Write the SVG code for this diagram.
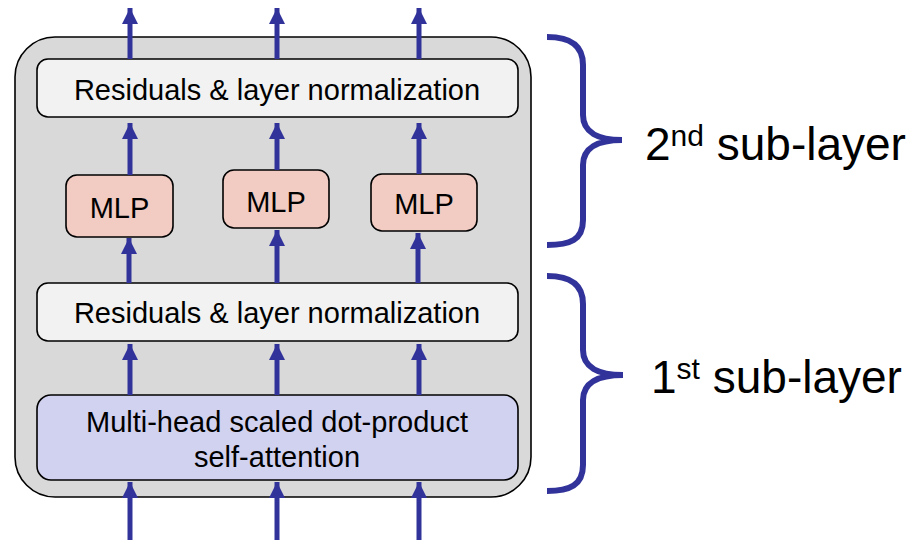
<svg xmlns="http://www.w3.org/2000/svg" width="923" height="540" viewBox="0 0 923 540">
  <style>
    .lbl { font-family: "Liberation Sans", Arial, sans-serif; fill: #000; }
    .box { stroke: #000; stroke-width: 1.6; }
    .arrow { stroke: #31339a; stroke-width: 5; fill: none; marker-end: url(#head); }
    .brace { stroke: #31339a; stroke-width: 6; fill: none; stroke-linecap: butt; }
  </style>
  <defs>
    <marker id="head" markerUnits="userSpaceOnUse" markerWidth="16" markerHeight="17" refX="16" refY="8" orient="auto">
      <path d="M0,0 L16,8 L0,16 Z" fill="#31339a"/>
    </marker>
  </defs>

  <rect width="923" height="540" fill="#fff"/>

  <!-- encoder block container -->
  <g id="block">
    <rect class="box" x="15" y="37" width="516" height="460" rx="40" fill="#d9d9d9"/>
  </g>

  <g id="norm2">
    <rect class="box" x="37" y="59" width="481" height="58" rx="11" fill="#f2f2f2"/>
    <text class="lbl" x="277" y="100" font-size="29" text-anchor="middle">Residuals &amp; layer normalization</text>
  </g>

  <g id="mlp1">
    <rect class="box" x="66" y="175" width="107" height="62" rx="11" fill="#f2cbc2"/>
    <text class="lbl" x="119.5" y="218" font-size="29" text-anchor="middle">MLP</text>
  </g>
  <g id="mlp2">
    <rect class="box" x="223" y="170" width="106" height="58" rx="11" fill="#f2cbc2"/>
    <text class="lbl" x="276" y="212" font-size="29" text-anchor="middle">MLP</text>
  </g>
  <g id="mlp3">
    <rect class="box" x="371" y="174" width="106" height="57" rx="11" fill="#f2cbc2"/>
    <text class="lbl" x="424" y="214" font-size="29" text-anchor="middle">MLP</text>
  </g>

  <g id="norm1">
    <rect class="box" x="37" y="283" width="481" height="58" rx="11" fill="#f2f2f2"/>
    <text class="lbl" x="277" y="323" font-size="29" text-anchor="middle">Residuals &amp; layer normalization</text>
  </g>

  <g id="attention">
    <rect class="box" x="37" y="395" width="481" height="85" rx="14" fill="#d1d1f0"/>
    <text class="lbl" x="277" y="432" font-size="29" text-anchor="middle">Multi-head scaled dot-product</text>
    <text class="lbl" x="277" y="467" font-size="29" text-anchor="middle">self-attention</text>
  </g>

  <!-- connectors -->
  <g id="connectors">
    <line class="arrow" x1="130" y1="540" x2="130" y2="482"/>
    <line class="arrow" x1="277" y1="540" x2="277" y2="482"/>
    <line class="arrow" x1="419" y1="540" x2="419" y2="482"/>

    <line class="arrow" x1="130" y1="395" x2="130" y2="344"/>
    <line class="arrow" x1="277" y1="395" x2="277" y2="344"/>
    <line class="arrow" x1="419" y1="395" x2="419" y2="344"/>

    <line class="arrow" x1="129" y1="283" x2="129" y2="238"/>
    <line class="arrow" x1="277" y1="283" x2="277" y2="230"/>
    <line class="arrow" x1="418" y1="283" x2="418" y2="233"/>

    <line class="arrow" x1="130" y1="175" x2="130" y2="123"/>
    <line class="arrow" x1="277" y1="170" x2="277" y2="123"/>
    <line class="arrow" x1="419" y1="174" x2="419" y2="123"/>

    <line class="arrow" x1="130" y1="59" x2="130" y2="8"/>
    <line class="arrow" x1="277" y1="59" x2="277" y2="8"/>
    <line class="arrow" x1="419" y1="59" x2="419" y2="8"/>
  </g>

  <!-- sub-layer braces -->
  <g id="brace2">
    <path class="brace" d="M547,37 C570,37 583,45 583,65 L583,115 C583,132 598,140 622,140 C598,140 583,148 583,165 L583,220 C583,240 570,245 547,245"/>
    <text class="lbl" x="645" y="160" font-size="46">2<tspan font-size="30" dy="-14">nd</tspan><tspan dy="14"> sub-layer</tspan></text>
  </g>
  <g id="brace1">
    <path class="brace" d="M547,276 C570,276 583,284 583,304 L583,350 C583,367 598,375 623,375 C598,375 583,383 583,400 L583,465 C583,485 570,491 547,491"/>
    <text class="lbl" x="651" y="393" font-size="46">1<tspan font-size="30" dy="-14">st</tspan><tspan dy="14"> sub-layer</tspan></text>
  </g>
</svg>
